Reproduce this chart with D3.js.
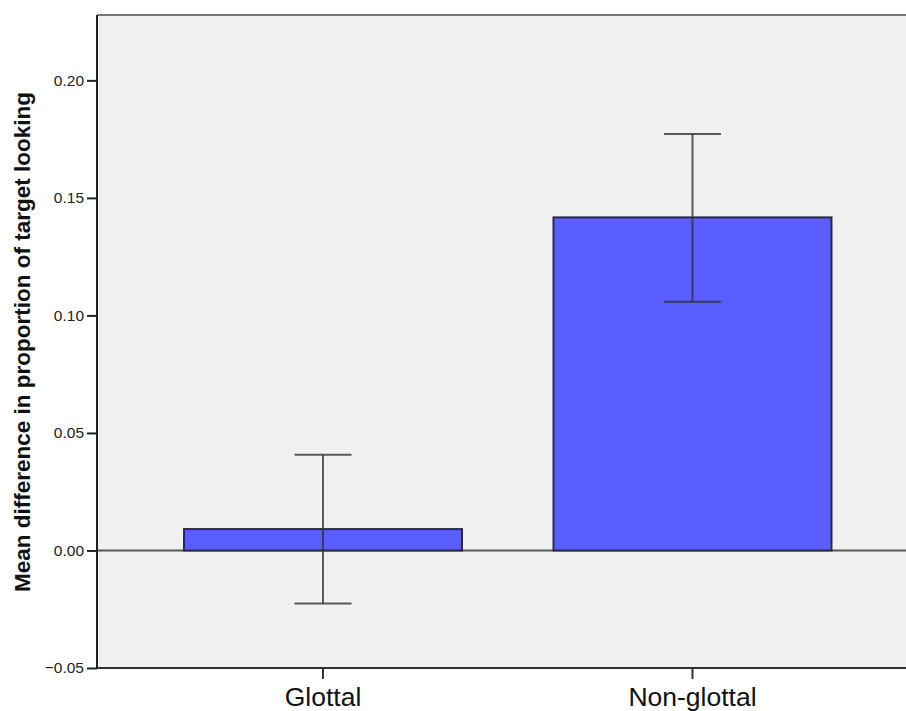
<!DOCTYPE html>
<html><head><meta charset="utf-8">
<script src="https://cdn.jsdelivr.net/npm/d3@7/dist/d3.min.js"></script>
<style>html,body{margin:0;padding:0;background:#fff;overflow:hidden}svg{display:block}</style>
</head><body>
<svg id="c" width="906" height="711"></svg>
<script>
const categories = ["Glottal", "Non-glottal"];
const means = [0.0091, 0.1417];
const ciLow = [-0.0226, 0.1058];
const ciHigh = [0.0407, 0.1772];
const yTicks = [-0.05, 0.00, 0.05, 0.10, 0.15, 0.20];
const yTitle = "Mean difference in proportion of target looking";

const L = 97, T = 15, B = 668, R = 918.5;
const svg = d3.select("#c");
const x = d3.scaleBand().domain(categories).range([L, R]).paddingInner(0.2476).paddingOuter(0.2355);
const y = d3.scaleLinear().domain([-0.05, 0.2278]).range([B, T]);

svg.append("rect").attr("x", L).attr("y", T).attr("width", R - L).attr("height", B - T).attr("fill", "#f0f0f0");
svg.append("line").attr("x1", L).attr("x2", R).attr("y1", T).attr("y2", T).attr("stroke", "#777").attr("stroke-width", 2);

svg.append("line").attr("x1", L).attr("x2", R).attr("y1", y(0)).attr("y2", y(0)).attr("stroke", "#555").attr("stroke-width", 2);

const data = categories.map((c, i) => ({c, m: means[i], lo: ciLow[i], hi: ciHigh[i]}));
svg.selectAll("rect.bar").data(data).enter().append("rect").attr("class", "bar")
  .attr("x", d => x(d.c)).attr("width", x.bandwidth())
  .attr("y", d => y(Math.max(0, d.m))).attr("height", d => Math.abs(y(d.m) - y(0)))
  .attr("fill", "#5a5eff").attr("stroke", "#2a2a44").attr("stroke-width", 2);

const cx = d => x(d.c) + x.bandwidth() / 2;
const eb = svg.append("g").attr("stroke", "#333").attr("stroke-opacity", 0.8).attr("stroke-width", 2);
data.forEach(d => {
  eb.append("line").attr("x1", cx(d)).attr("x2", cx(d)).attr("y1", y(d.hi)).attr("y2", y(d.lo));
  eb.append("line").attr("x1", cx(d) - 28.5).attr("x2", cx(d) + 28.5).attr("y1", y(d.hi)).attr("y2", y(d.hi));
  eb.append("line").attr("x1", cx(d) - 28.5).attr("x2", cx(d) + 28.5).attr("y1", y(d.lo)).attr("y2", y(d.lo));
});

const ya = svg.append("g").attr("transform", `translate(${L},0)`)
  .call(d3.axisLeft(y).tickValues(yTicks).tickFormat(d3.format(".2f")).tickSize(10).tickPadding(3));
ya.select(".domain").attr("stroke", "#222").attr("stroke-width", 2).attr("d", `M0,${T}V${B}`);
ya.selectAll(".tick line").attr("stroke", "#222").attr("stroke-width", 2);
ya.selectAll(".tick text").attr("fill", "#222").style("font-family", "Liberation Sans, Arial, sans-serif").style("font-size", "15.5px");

const xa = svg.append("g").attr("transform", `translate(0,${B})`)
  .call(d3.axisBottom(x).tickSize(11).tickPadding(6));
xa.select(".domain").attr("stroke", "#333").attr("stroke-width", 2).attr("d", `M${L},0H${R}`);
xa.selectAll(".tick line").attr("stroke", "#333").attr("stroke-width", 2);
xa.selectAll(".tick text").attr("fill", "#111").attr("dy", "0.71em").attr("y", 19)
  .style("font-family", "Liberation Sans, Arial, sans-serif").style("font-size", "26.5px");

svg.append("text").attr("transform", `translate(30,${(92 + 592) / 2}) rotate(-90)`)
  .attr("text-anchor", "middle").attr("fill", "#111")
  .style("font-family", "Liberation Sans, Arial, sans-serif").style("font-size", "22.5px").style("font-weight", "bold")
  .text(yTitle);
</script>
</body></html>
